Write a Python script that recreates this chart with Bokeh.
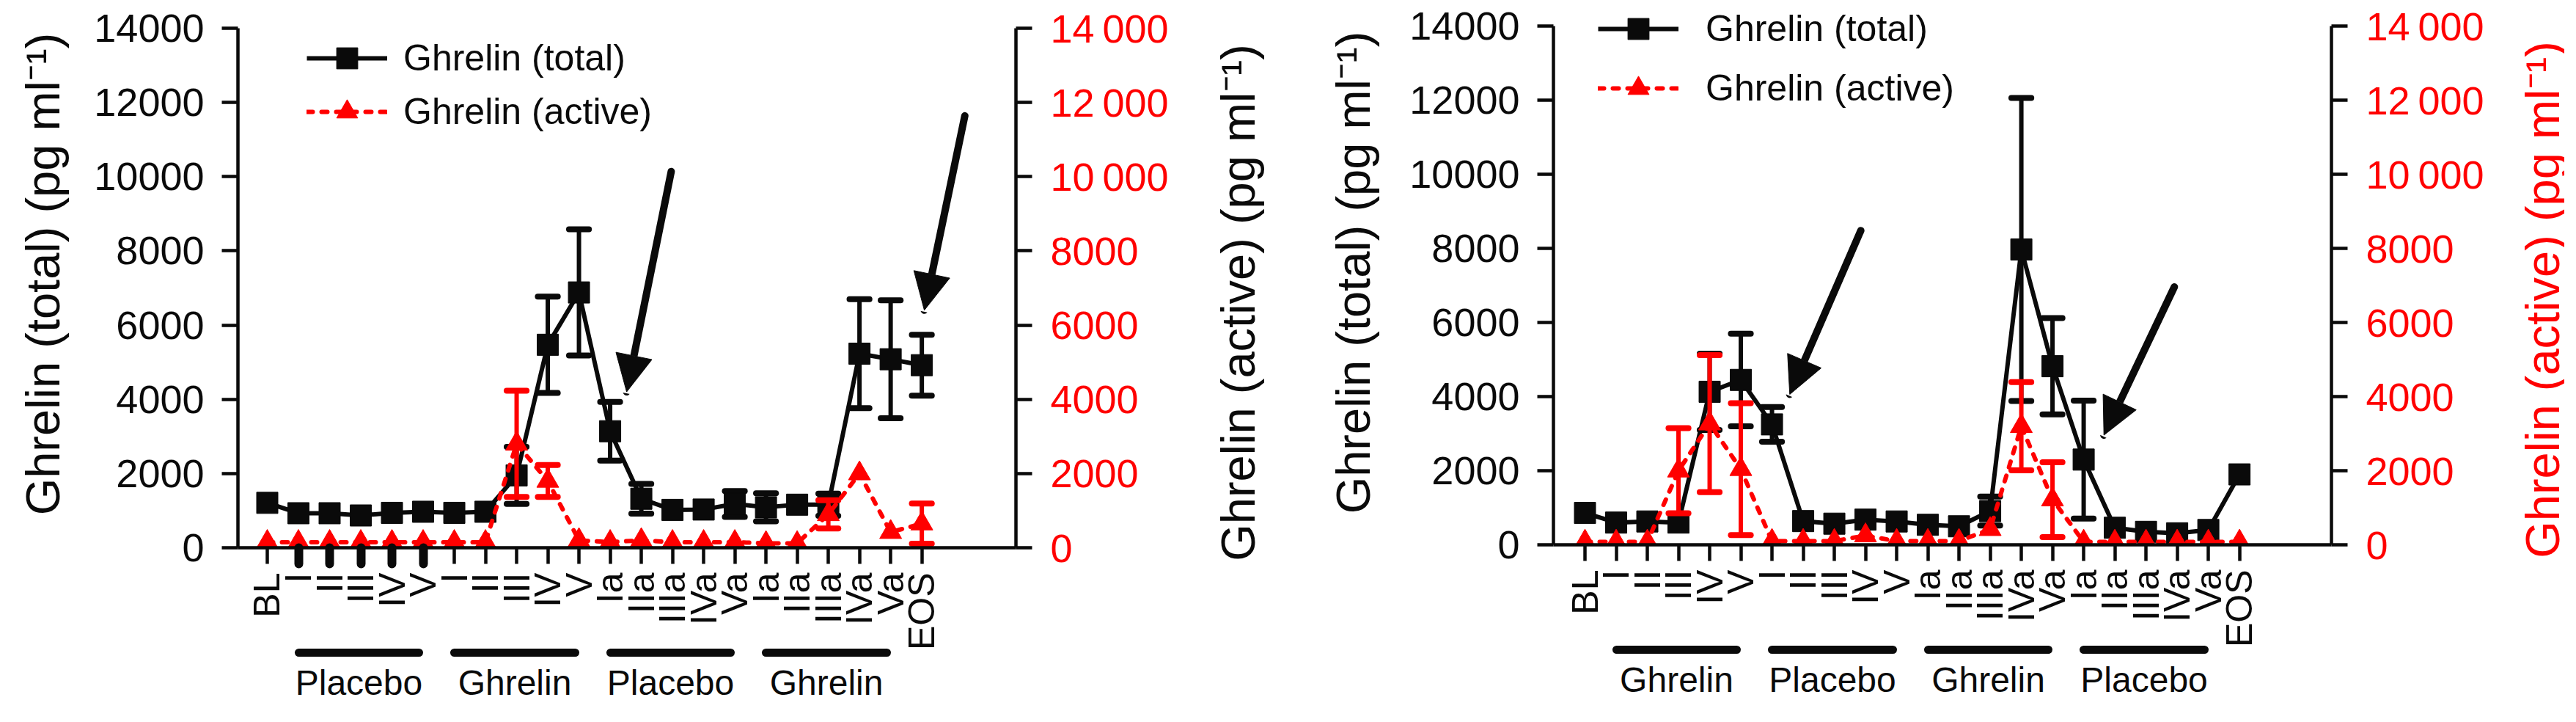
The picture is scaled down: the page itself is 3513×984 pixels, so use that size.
import math
from bokeh.plotting import figure
from bokeh.models import (Range1d, LinearAxis, FixedTicker, Legend, LegendItem,
                          Arrow, NormalHead)
from bokeh.layouts import row
from bokeh.embed import file_html
from bokeh.resources import INLINE
from bokeh.core.properties import value

# ---------------- data ----------------
categories = ["BL", "I", "II", "III", "IV", "V", "I", "II", "III", "IV", "V",
              "Ia", "IIa", "IIIa", "IVa", "Va", "Ia", "IIa", "IIIa", "IVa", "Va", "EOS"]

# left panel (placebo first)
left_total = [1210, 930, 930, 870, 940, 970, 940, 970, 1950, 5470, 6880,
              3140, 1320, 1020, 1030, 1180, 1090, 1160, 1160, 5230, 5080, 4920]
left_total_err = [0, 0, 0, 0, 0, 0, 0, 0, 770, 1300, 1700,
                  790, 400, 0, 0, 350, 380, 0, 300, 1470, 1590, 820]
left_active = [150, 150, 150, 150, 150, 150, 150, 150, 2800, 1800, 200,
               150, 200, 150, 150, 150, 120, 120, 900, 2000, 420, 650]
left_active_err = [0, 0, 0, 0, 0, 0, 0, 0, 1430, 430, 0,
                   0, 0, 0, 0, 0, 0, 0, 380, 0, 0, 540]
left_groups = ["Placebo", "Ghrelin", "Placebo", "Ghrelin"]

# right panel (ghrelin first)
right_total = [860, 600, 630, 600, 4130, 4450, 3250, 640, 570, 680, 630,
               540, 500, 910, 7970, 4820, 2300, 460, 350, 310, 400, 1900]
right_total_err = [0, 0, 0, 0, 1030, 1250, 470, 0, 0, 0, 0,
                   0, 0, 390, 4090, 1300, 1590, 0, 0, 0, 0, 0]
right_active = [80, 80, 80, 2000, 3270, 2040, 100, 100, 100, 250, 100,
                100, 100, 420, 3200, 1220, 80, 80, 80, 80, 80, 80]
right_active_err = [0, 0, 0, 1150, 1850, 1780, 0, 0, 0, 0, 0,
                    0, 0, 0, 1190, 1010, 0, 0, 0, 0, 0, 0]
right_groups = ["Ghrelin", "Placebo", "Ghrelin", "Placebo"]

group_starts = [1, 6, 11, 16]
group_ends = [5, 10, 15, 20]

y_ticks = [0, 2000, 4000, 6000, 8000, 10000, 12000, 14000]
right_tick_text = {14000: "14\u2009000", 12000: "12\u2009000", 10000: "10\u2009000"}

total_label = "Ghrelin (total) (pg ml\u207b\u00b9)"
active_label = "Ghrelin (active) (pg ml\u207b\u00b9)"

# annotation arrows (x in category index, y in pg/ml)
left_arrows = [((12.96, 10140), (11.53, 4200)), ((22.38, 11640), (21.08, 6400))]
right_arrows = [((8.85, 8480), (6.57, 4060)), ((18.91, 6960), (16.65, 2960))]

FONT = "Liberation Sans"
BLACK = "#0a0a0a"
RED = "#ff0000"
YMAX = 14000
PAGE_H = 968


def style_axis(a):
    a.major_tick_in = 0
    a.minor_tick_out = 0
    a.minor_tick_in = 0
    a.axis_line_width = 4.5
    a.major_tick_line_width = 4.5
    a.axis_line_color = BLACK
    a.major_tick_line_color = BLACK


def blank_axis(ticks):
    a = LinearAxis(ticker=FixedTicker(ticks=ticks, minor_ticks=[]))
    a.major_tick_out = 0
    a.major_tick_in = 0
    a.minor_tick_out = 0
    a.minor_tick_in = 0
    a.major_label_standoff = 0
    a.major_label_text_font_size = "0px"
    a.axis_line_color = None
    a.major_tick_line_color = None
    return a


def make_panel(total, total_err, active, active_err, groups, cfg):
    n = len(categories)
    xs = list(range(n))
    ytop = YMAX * cfg["fh"] / cfg["fh_data"]
    p = figure(frame_width=1061, frame_height=cfg["fh"],
               x_range=Range1d(cfg["x0"], cfg["x1"]), y_range=Range1d(0, ytop),
               output_backend="svg", toolbar_location=None,
               min_border_left=cfg["bl"], min_border_right=cfg["br"],
               min_border_top=0, min_border_bottom=cfg["bb"])
    p.extra_y_ranges = {"active": Range1d(0, ytop)}
    p.outline_line_color = None
    p.xgrid.visible = False
    p.ygrid.visible = False
    p.background_fill_color = "white"
    p.border_fill_color = "white"

    # category x axis
    xa = p.xaxis[0]
    xa.ticker = FixedTicker(ticks=xs, minor_ticks=[])
    xa.major_label_overrides = {i: c for i, c in enumerate(categories)}
    xa.major_label_orientation = math.pi / 2
    xa.major_tick_out = 22
    style_axis(xa)
    xa.major_label_text_font = FONT
    xa.major_label_text_font_size = "50px"
    xa.major_label_text_color = BLACK
    xa.major_label_standoff = 12

    # left y axis (total)
    ya = p.yaxis[0]
    ya.ticker = FixedTicker(ticks=y_ticks, minor_ticks=[])
    ya.bounds = (0, YMAX)
    ya.axis_label = total_label
    ya.axis_label_text_font = FONT
    ya.axis_label_text_font_style = "normal"
    ya.axis_label_text_font_size = "65px"
    ya.axis_label_text_color = BLACK
    ya.axis_label_standoff = cfg["ylab_standoff"]
    ya.major_label_text_font = FONT
    ya.major_label_text_font_size = "54px"
    ya.major_label_text_color = BLACK
    ya.major_label_standoff = 24
    ya.major_tick_out = 22
    style_axis(ya)

    # right y axis (active)
    ra = LinearAxis(y_range_name="active", ticker=FixedTicker(ticks=y_ticks, minor_ticks=[]))
    ra.bounds = (0, YMAX)
    ra.major_label_overrides = dict(right_tick_text)
    ra.major_label_text_font = FONT
    ra.major_label_text_font_size = "54px"
    ra.major_label_text_color = RED
    ra.major_label_standoff = 25
    ra.major_tick_out = 22
    style_axis(ra)
    p.add_layout(ra, "right")

    # thick tick marks (left panel only), drawn at the x axis
    if cfg.get("thick_ticks"):
        ta = blank_axis(cfg["thick_ticks"])
        ta.major_label_overrides = {i: "" for i in cfg["thick_ticks"]}
        ta.major_tick_in = -22
        ta.major_tick_line_color = BLACK
        ta.major_tick_line_width = 12
        ta.major_tick_line_cap = "round"
        p.below = [ta] + list(p.below)

    # treatment-period bars: axis rules restricted by bounds
    for s, e in zip(group_starts, group_ends):
        ba = blank_axis([])
        ba.bounds = (s, e - 0.12)
        ba.axis_line_color = BLACK
        ba.axis_line_width = 11
        ba.axis_line_cap = "round"
        p.add_layout(ba, "below")

    # treatment-period names
    centers = [(s + e) / 2 - 0.06 for s, e in zip(group_starts, group_ends)]
    ga = blank_axis(centers)
    ga.major_label_overrides = {c: g for c, g in zip(centers, groups)}
    ga.major_label_text_font = FONT
    ga.major_label_text_font_size = "48px"
    ga.major_label_text_color = BLACK
    ga.major_label_standoff = 14
    p.add_layout(ga, "below")

    cap = 0.32
    # total series
    l_tot = p.line(xs, total, line_color=BLACK, line_width=6)
    ex = [x for x, e in zip(xs, total_err) if e > 0]
    ehi = [v + e for v, e in zip(total, total_err) if e > 0]
    elo = [v - e for v, e in zip(total, total_err) if e > 0]
    p.segment(x0=ex, y0=elo, x1=ex, y1=ehi, line_color=BLACK, line_width=6)
    p.segment(x0=[x - cap for x in ex], y0=ehi, x1=[x + cap for x in ex], y1=ehi,
              line_color=BLACK, line_width=8, line_cap="round")
    p.segment(x0=[x - cap for x in ex], y0=elo, x1=[x + cap for x in ex], y1=elo,
              line_color=BLACK, line_width=8, line_cap="round")
    s_tot = p.scatter(xs, total, marker="square", size=29, fill_color=BLACK, line_color=BLACK)

    # active series
    l_act = p.line(xs, active, line_color=RED, line_width=6, line_dash="8 12",
                   line_cap="round", y_range_name="active")
    ax_ = [x for x, e in zip(xs, active_err) if e > 0]
    ahi = [v + e for v, e in zip(active, active_err) if e > 0]
    alo = [v - e for v, e in zip(active, active_err) if e > 0]
    p.segment(x0=ax_, y0=alo, x1=ax_, y1=ahi, line_color=RED, line_width=6,
              y_range_name="active")
    p.segment(x0=[x - cap for x in ax_], y0=ahi, x1=[x + cap for x in ax_], y1=ahi,
              line_color=RED, line_width=8, line_cap="round", y_range_name="active")
    p.segment(x0=[x - cap for x in ax_], y0=alo, x1=[x + cap for x in ax_], y1=alo,
              line_color=RED, line_width=8, line_cap="round", y_range_name="active")
    s_act = p.scatter(xs, active, marker="triangle", size=30, fill_color=RED, line_color=RED,
                      y_range_name="active")

    legend = Legend(items=[LegendItem(label="Ghrelin (total)", renderers=[l_tot, s_tot]),
                           LegendItem(label="Ghrelin (active)", renderers=[l_act, s_act])],
                    location=cfg["leg_loc"], glyph_width=110, glyph_height=72,
                    label_height=72, spacing=cfg["leg_spacing"], padding=0, margin=0,
                    label_standoff=cfg["leg_standoff"], border_line_alpha=0,
                    background_fill_alpha=0, label_text_font=FONT,
                    label_text_font_size="50px", label_text_color=BLACK)
    p.add_layout(legend)

    # arrows
    for (t, h) in cfg["arrows"]:
        p.add_layout(Arrow(end=NormalHead(size=50, fill_color=BLACK, line_color=BLACK, line_width=1),
                           x_start=t[0], y_start=t[1], x_end=h[0], y_end=h[1],
                           line_width=10, line_color=BLACK, line_cap="round"))
    return p


def make_side_title(text, color, width, baseline_x, center_from_top):
    # narrow strip holding the right-hand axis title, reading bottom-to-top
    t = figure(frame_width=width, frame_height=PAGE_H,
               x_range=Range1d(0, width), y_range=Range1d(0, PAGE_H),
               output_backend="svg", toolbar_location=None,
               x_axis_location=None, y_axis_location=None,
               min_border_left=0, min_border_right=0, min_border_top=0, min_border_bottom=0)
    t.outline_line_color = None
    t.background_fill_color = "white"
    t.border_fill_color = "white"
    t.grid.visible = False
    t.text(x=[baseline_x], y=[PAGE_H - center_from_top], text=[text], angle=90, angle_units="deg",
           text_align="center", text_baseline="alphabetic", text_font=value(FONT),
           text_font_size="65px", text_color=color)
    return t


left_cfg = dict(fh=746, fh_data=708, x0=-0.941, x1=24.02, bl=324, br=227, bb=222,
                ylab_standoff=30, leg_loc=(94, 558), leg_spacing=1, leg_standoff=22,
                arrows=left_arrows, thick_ticks=[1, 2, 3, 4, 5])
right_cfg = dict(fh=742, fh_data=707, x0=-1.012, x1=23.95, bl=381, br=212, bb=226,
                 ylab_standoff=37, leg_loc=(61, 586), leg_spacing=9, leg_standoff=37,
                 arrows=right_arrows)

p1 = make_panel(left_total, left_total_err, left_active, left_active_err, left_groups, left_cfg)
t1 = make_side_title(active_label, BLACK, 125, 76, 412)
p2 = make_panel(right_total, right_total_err, right_active, right_active_err, right_groups, right_cfg)
t2 = make_side_title(active_label, RED, 106, 76, 408)

layout = row(p1, t1, p2, t2)
open("out.html", "w").write(file_html(layout, INLINE))
